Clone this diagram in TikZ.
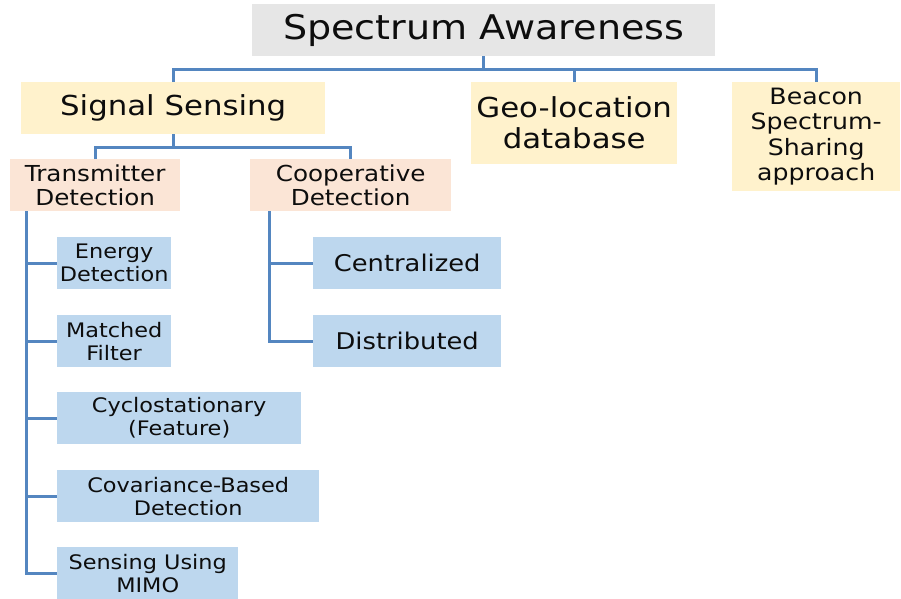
\documentclass[tikz,border=0pt]{standalone}
\usepackage{fontspec}
\setmainfont{DejaVu Sans}[FakeStretch=1.12]
\definecolor{lineblue}{RGB}{84,134,192}
\definecolor{rootgray}{RGB}{230,230,230}
\definecolor{yel}{RGB}{255,242,204}
\definecolor{peach}{RGB}{251,229,214}
\definecolor{leafblue}{RGB}{189,215,238}
\tikzset{
  box/.style={anchor=north west, inner sep=0pt, align=center, text=black!95},
  conn/.style={draw=lineblue, line width=3pt},
}
\begin{document}
\begin{tikzpicture}[x=1pt,y=-1pt]
\useasboundingbox (0,0) rectangle (901,598);
% nodes
\node[box, fill=rootgray, minimum width=463pt, minimum height=52pt, font=\fontsize{34}{40}\selectfont] (root) at (252,4) {Spectrum Awareness};
\node[box, fill=yel, minimum width=304pt, minimum height=52pt, font=\fontsize{27.5}{32}\selectfont] (ss) at (21,82) {Signal Sensing};
\node[box, fill=yel, minimum width=206pt, minimum height=82pt, font=\fontsize{27.5}{31}\selectfont] (geo) at (471,82) {Geo-location\\database};
\node[box, fill=yel, minimum width=168pt, minimum height=109pt, font=\fontsize{22.5}{25.5}\selectfont] (bc) at (732,82) {Beacon\\Spectrum-\\Sharing\\approach};
\node[box, fill=peach, minimum width=170pt, minimum height=52pt, font=\fontsize{22}{24}\selectfont] (td) at (10,159) {Transmitter\\Detection};
\node[box, fill=peach, minimum width=201pt, minimum height=52pt, font=\fontsize{22}{24}\selectfont] (cd) at (250,159) {Cooperative\\Detection};
\tikzset{leaf/.style={box, fill=leafblue, minimum height=52pt, font=\fontsize{20}{23}\selectfont}}
\node[leaf, minimum width=114pt] (ed) at (57,237) {Energy\\Detection};
\node[leaf, minimum width=114pt] (mf) at (57,315) {Matched\\Filter};
\node[leaf, minimum width=244pt] (cy) at (57,392) {Cyclostationary\\(Feature)};
\node[leaf, minimum width=262pt] (cv) at (57,470) {Covariance-Based\\Detection};
\node[leaf, minimum width=181pt] (mm) at (57,547) {Sensing Using\\MIMO};
\node[leaf, minimum width=188pt, font=\fontsize{23}{26}\selectfont] (ce) at (313,237) {Centralized};
\node[leaf, minimum width=188pt, font=\fontsize{23}{26}\selectfont] (di) at (313,315) {Distributed};
% connectors
\coordinate (bar1) at (0,69);
\draw[conn] (ss.north) -- (ss.north |- bar1) -- (bc.north |- bar1) -- (bc.north);
\draw[conn] (geo.north) -- (geo.north |- bar1);
\draw[conn] (root.south) -- (root.south |- bar1);
\coordinate (bar2) at (0,147);
\draw[conn] (td.north) -- (td.north |- bar2) -- (cd.north |- bar2) -- (cd.north);
\draw[conn] (ss.south) -- (ss.south |- bar2);
\coordinate (tv) at (26,211);
\draw[conn] (tv) |- (mm.west);
\foreach \n in {ed,mf,cy,cv} \draw[conn] (tv |- \n.west) -- (\n.west);
\coordinate (cvv) at (269,211);
\draw[conn] (cvv) |- (di.west);
\draw[conn] (cvv |- ce.west) -- (ce.west);
\end{tikzpicture}
\end{document}
